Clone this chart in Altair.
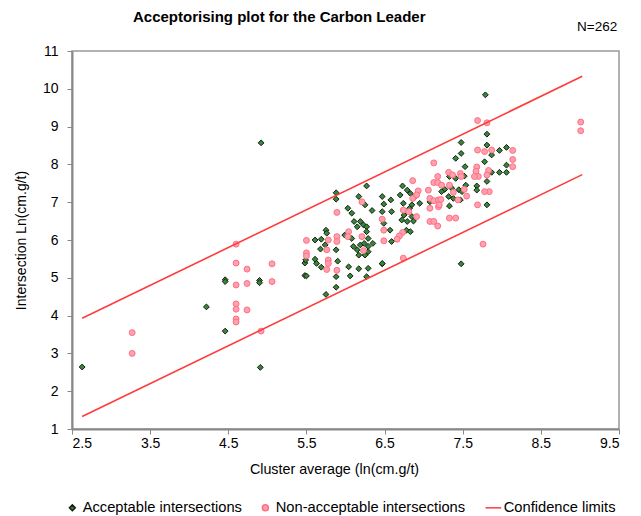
import altair as alt
import pandas as pd

# Acceptable intersections (green diamonds)
acc_x = [2.63, 4.22, 4.46, 4.46, 4.46, 4.90, 4.90, 4.91, 4.92, 5.48, 5.48,
         5.88, 5.88, 6.27, 6.17, 6.25, 6.03, 6.08, 6.11, 6.19, 6.23, 6.27, 6.15,
         5.99, 6.08, 6.27, 6.29, 5.75, 5.76, 5.61, 5.69, 5.74, 6.10, 6.19, 6.24,
         6.29, 6.15, 6.17, 6.25, 6.29, 5.68, 5.88, 5.49, 5.61, 5.63, 5.90, 5.69,
         6.04, 6.17, 6.29, 5.50, 5.88, 6.06, 6.27, 5.88, 5.75, 6.47,
         6.73, 6.79, 6.83, 6.70, 6.89, 7.08, 6.47, 6.58, 6.49, 6.74, 6.95, 6.85,
         6.47, 6.59, 6.82, 6.34, 6.75, 6.85, 6.72, 6.49, 6.79, 6.87, 6.57, 6.78,
         6.83, 6.35, 6.59, 6.47,
         7.81, 7.48, 7.81, 7.87, 7.97, 8.06, 7.48, 7.41, 7.53, 7.78, 8.06, 7.97,
         8.06, 7.87, 7.81, 7.68, 7.68, 7.81, 7.33, 7.41, 7.52, 7.27, 7.23, 7.36,
         7.45, 7.49, 7.54, 7.32, 7.38, 7.47, 7.33, 7.79, 7.48]
acc_y = [2.64, 4.23, 4.95, 4.90, 3.59, 4.93, 4.87, 2.63, 8.57, 5.39, 5.06,
         7.25, 7.08, 7.43, 7.15, 6.93, 6.84, 6.71, 6.49, 6.49, 6.40, 6.35, 6.35,
         6.13, 6.04, 6.22, 6.04, 6.26, 6.18, 6.00, 6.02, 5.87, 5.83, 5.87, 5.91,
         5.83, 5.74, 5.60, 5.60, 5.69, 5.76, 5.74, 5.47, 5.49, 5.38, 5.44, 5.28,
         5.29, 5.24, 5.25, 5.05, 5.03, 5.05, 5.03, 4.75, 4.56, 5.37,
         7.43, 7.32, 7.23, 7.19, 7.15, 7.01, 7.15, 7.06, 6.95, 6.97, 6.97, 6.93,
         6.75, 6.75, 6.84, 6.78, 6.66, 6.62, 6.53, 6.44, 6.49, 6.50, 6.26, 6.26,
         6.22, 5.91, 5.96, 5.38,
         8.80, 8.58, 8.51, 8.25, 8.37, 8.45, 8.29, 8.16, 7.94, 8.07, 7.98, 7.79,
         7.79, 7.79, 7.55, 7.43, 7.32, 6.93, 7.68, 7.63, 7.69, 7.34, 7.28, 7.37,
         7.33, 7.28, 7.45, 7.15, 7.10, 7.06, 6.90, 9.84, 5.37]

# Non-acceptable intersections (pink circles)
non_x = [3.27, 3.27, 4.60, 4.60, 4.74, 5.06, 4.60, 4.74, 5.06, 4.60, 4.60,
         4.74, 4.60, 4.60, 4.92, 5.50, 5.50, 5.50,
         6.21, 5.89, 6.04, 6.03, 6.21, 5.89, 5.89, 5.78, 6.23, 5.76, 5.78, 5.78,
         5.76, 5.89,
         7.13, 6.86, 7.13, 6.93, 6.91, 6.86, 7.06, 7.08, 7.13, 7.19, 7.08, 7.19,
         6.74, 6.47, 6.91, 7.08, 7.13, 6.49, 6.73, 6.69, 6.66, 6.49, 6.74, 6.81,
         7.69, 7.81, 7.69, 7.78, 7.87, 8.14, 8.14, 8.14, 7.83, 7.68, 7.67, 7.81,
         7.70, 7.65, 7.84, 7.78, 7.69, 7.33, 7.41, 7.18, 7.18, 7.18, 7.32, 7.37,
         7.47, 7.48, 7.23, 7.33, 7.38, 7.52, 7.55, 7.22, 7.20, 7.44,
         9.01, 9.01, 7.76]
non_y = [3.55, 3.00, 5.89, 5.39, 5.23, 5.37, 4.81, 4.85, 4.90, 4.31, 4.17,
         4.15, 3.91, 3.83, 3.59, 5.99, 5.66, 5.58,
         7.01, 6.73, 6.22, 6.09, 6.09, 6.09, 5.96, 6.00, 5.72, 5.74, 5.47, 5.38,
         5.22, 5.20,
         8.04, 7.57, 7.52, 7.30, 7.19, 7.10, 7.32, 7.10, 7.04, 7.06, 6.84, 6.88,
         6.79, 6.55, 6.62, 6.49, 6.49, 6.26, 6.20, 6.11, 6.02, 5.98, 5.52, 6.75,
         9.16, 9.10, 8.38, 8.34, 8.38, 8.37, 8.13, 7.94, 7.84, 7.93, 7.82, 7.72,
         7.68, 7.68, 7.28, 7.28, 6.93, 6.58, 6.58, 6.37, 7.68, 7.52, 7.79, 7.72,
         7.76, 7.68, 7.45, 7.45, 7.26, 7.34, 7.16, 7.07, 6.93, 7.06,
         9.12, 8.89, 5.89]

# Confidence limits (two straight lines)
lim_x = [2.63, 9.03, 2.63, 9.03]
lim_y = [3.93, 10.33, 1.33, 7.73]
lim_id = ["upper", "upper", "lower", "lower"]

series = ["Acceptable intersections", "Non-acceptable intersections", "Confidence limits"]
x_ticks = [2.5, 3.5, 4.5, 5.5, 6.5, 7.5, 8.5, 9.5]
y_ticks = [1, 2, 3, 4, 5, 6, 7, 8, 9, 10, 11]
title_text = ["Acceptorising plot for the Carbon Leader"]
count_text = ["N=262"]

pts = pd.DataFrame({
    "x": acc_x + non_x,
    "y": acc_y + non_y,
    "series": [series[0]] * len(acc_x) + [series[1]] * len(non_x),
})
lines = pd.DataFrame({"x": lim_x, "y": lim_y, "line": lim_id, "series": series[2]})

FONT = "Liberation Sans"
xs = alt.Scale(domain=[2.5, 9.5], nice=False, zero=False)
ys = alt.Scale(domain=[1, 11], nice=False, zero=False)

fill_s = alt.Scale(domain=series, range=["#348a34", "#ffa0b2", "#ff3b3b"])
stroke_s = alt.Scale(domain=series, range=["#1a1a1a", "#ff6f7f", "#ff3b3b"])
shape_s = alt.Scale(domain=series, range=["diamond", "circle", "M-2.6,0H2.6"])
size_s = alt.Scale(domain=series, range=[34, 36, 36])

leg = alt.Legend(orient="none", legendX=-7, legendY=449, direction="horizontal",
                 title=None, labelFontSize=14.7, labelFont=FONT, labelColor="#000",
                 labelLimit=400, columnPadding=16, labelOffset=3,
                 symbolStrokeWidth=1.5)

xax = alt.Axis(values=x_ticks, format=".1f", title="Cluster average (ln(cm.g/t)",
               grid=False, tickSize=5, tickColor="#888", domainColor="#888",
               domainWidth=2, labelFontSize=14, titleFontSize=14.3, labelFont=FONT,
               titleFont=FONT, titleFontWeight="normal", labelColor="#000",
               titleColor="#000", labelPadding=2, titlePadding=12,
               titleX=262, titleAlign="center", labelOverlap=False)
yax = alt.Axis(values=y_ticks, format="d", title="Intersection Ln(cm.g/t)",
               grid=False, tickSize=5, tickColor="#888", domainColor="#888",
               domainWidth=2, labelFontSize=14, titleFontSize=14, labelFont=FONT,
               titleFont=FONT, titleFontWeight="normal", labelColor="#000",
               titleColor="#000", labelPadding=9, titlePadding=14,
               labelOverlap=False, tickCount=11)

points = alt.Chart(pts).mark_point(filled=True, strokeWidth=1, opacity=1).encode(
    x=alt.X("x:Q", scale=xs, axis=xax),
    y=alt.Y("y:Q", scale=ys, axis=yax),
    fill=alt.Fill("series:N", scale=fill_s, legend=leg),
    stroke=alt.Stroke("series:N", scale=stroke_s, legend=leg),
    shape=alt.Shape("series:N", scale=shape_s, legend=leg),
    size=alt.Size("series:N", scale=size_s, legend=leg),
)

limits = alt.Chart(lines).mark_line(strokeWidth=1.6).encode(
    x=alt.X("x:Q", scale=xs, axis=xax),
    y=alt.Y("y:Q", scale=ys, axis=yax),
    detail="line:N",
    stroke=alt.Stroke("series:N", scale=stroke_s, legend=leg),
)

title_mark = alt.Chart(pd.DataFrame({"t": title_text})).mark_text(
    font=FONT, fontSize=15, fontWeight="bold", align="left", baseline="middle",
    color="#000"
).encode(x=alt.value(61), y=alt.value(-34), text="t:N")

ntext = alt.Chart(pd.DataFrame({"t": count_text})).mark_text(
    font=FONT, fontSize=13.5, align="left", baseline="middle", color="#000"
).encode(x=alt.value(505), y=alt.value(-24), text="t:N")

chart = alt.layer(points, limits, title_mark, ntext).properties(
    width=547, height=378,
    padding={"left": 64, "top": 43, "right": 14, "bottom": 87},
    autosize="none",
).configure_view(stroke="#999", strokeWidth=1.5).configure_axis(labelOverlap=False)

chart.save("out.html", embed_options={"renderer": "svg", "actions": False})
